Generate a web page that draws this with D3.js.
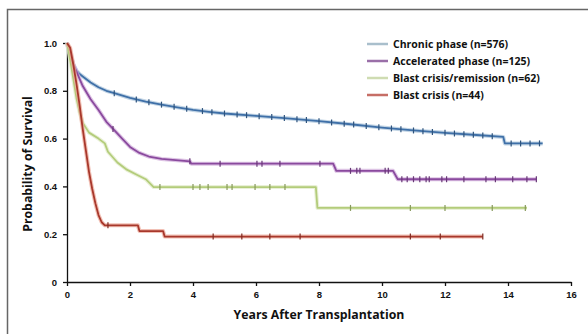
<!DOCTYPE html>
<html>
<head>
<meta charset="utf-8">
<script src="https://cdn.jsdelivr.net/npm/d3@7"></script>
<style>
  body { margin: 0; background: #fff; }
  svg { display: block; font-family: "Open Sans", "DejaVu Sans", sans-serif; }
</style>
</head>
<body>
<svg id="chart" width="588" height="335"></svg>
<script>
// Kaplan-Meier curves, [years, probability]
const chronic = [[0,1],[0.05,0.97],[0.1,0.95],[0.2,0.91],[0.3,0.885],[0.4,0.87],[0.5,0.86],[0.75,0.835],[1,0.815],[1.25,0.8],[1.5,0.79],[2,0.77],[2.5,0.755],[3,0.742],[3.5,0.731],[4,0.72],[4.5,0.712],[5,0.705],[6,0.695],[7,0.685],[8,0.673],[9,0.66],[10,0.646],[11,0.634],[12,0.624],[13,0.615],[13.85,0.607],[13.9,0.58],[15.1,0.58]];
const accelerated = [[0,1],[0.1,0.96],[0.2,0.91],[0.3,0.88],[0.5,0.82],[0.75,0.765],[1,0.72],[1.25,0.67],[1.5,0.635],[1.75,0.6],[2,0.565],[2.3,0.54],[2.6,0.525],[3,0.515],[3.9,0.505],[3.95,0.495],[8.45,0.495],[8.55,0.465],[10.35,0.465],[10.5,0.43],[14.9,0.43]];
const remission = [[0,1],[0.1,0.93],[0.2,0.85],[0.3,0.77],[0.4,0.71],[0.5,0.665],[0.7,0.625],[1,0.6],[1.2,0.58],[1.3,0.545],[1.6,0.5],[1.9,0.47],[2.2,0.45],[2.5,0.43],[2.75,0.397],[7.9,0.397],[7.95,0.31],[14.6,0.31]];
const blast = [[0,1],[0.1,0.98],[0.2,0.91],[0.3,0.83],[0.4,0.74],[0.5,0.64],[0.6,0.55],[0.7,0.46],[0.8,0.39],[0.9,0.33],[1,0.28],[1.1,0.25],[1.2,0.237],[2.25,0.237],[2.3,0.213],[3.05,0.213],[3.1,0.19],[13.2,0.19]];

// censoring marks (years)
const chronicCens = [1.5,2.2,2.6,3.0,3.4,3.8,4.3,4.6,5.0,5.4,5.7,6.1,6.5,6.9,7.3,7.6,8.0,8.4,8.8,9.1,9.5,9.9,10.3,10.6,11.0,11.3,11.6,12.0,12.3,12.6,12.9,13.2,13.5,14.1,14.4,14.7,15.0];
const acceleratedCens = [1.46,3.9,4.86,6.03,6.19,6.76,8.03,9.0,9.2,9.3,10.1,10.2,10.63,10.8,11.0,11.2,11.4,11.5,11.9,12.05,12.6,13.3,13.6,14.15,14.6,14.9];
const remissionCens = [2.95,4.0,4.22,4.48,5.08,5.24,5.97,6.44,6.92,9.0,10.9,12.0,13.5,14.55];
const blastCens = [1.3,4.64,5.55,6.44,7.4,10.9,11.85,13.2];

const seriesNames = ["Chronic phase (n=576)", "Accelerated phase (n=125)", "Blast crisis/remission (n=62)", "Blast crisis (n=44)"];
const xTicks = [0,2,4,6,8,10,12,14,16];
const yTicks = [0,0.2,0.4,0.6,0.8,1.0];

const series = [
  { name: seriesNames[0], pts: chronic, cens: chronicCens, color: "#3f70a8", halo: "#a9c3da", legend: "#a9bfcc" },
  { name: seriesNames[1], pts: accelerated, cens: acceleratedCens, color: "#8a4a9e", halo: "#cfaad8", legend: "#9a6fa8" },
  { name: seriesNames[2], pts: remission, cens: remissionCens, color: "#b3cc7a", halo: "#e0eac6", legend: "#cfdcb2" },
  { name: seriesNames[3], pts: blast, cens: blastCens, color: "#a8382c", halo: "#eba596", legend: "#c66e66" }
];

const svg = d3.select("#chart");

// frame
svg.append("path").attr("d", "M7.5,334 V9.5 H588")
  .attr("fill", "none").attr("stroke", "#666").attr("stroke-width", 1.5);

const x = d3.scaleLinear().domain([0, 16]).range([67, 571]);
const y = d3.scaleLinear().domain([0, 1]).range([282, 43]);

svg.append("g")
  .attr("transform", "translate(0,282)")
  .call(d3.axisBottom(x).tickValues(xTicks).tickFormat(d3.format("d")).tickSize(4).tickSizeOuter(0))
  .call(g => g.select(".domain").attr("stroke", "#111").attr("stroke-width", 1.3))
  .call(g => g.selectAll(".tick line").attr("stroke", "#111").attr("stroke-width", 1.3))
  .call(g => g.selectAll("text").attr("font-size", 9.5).attr("font-weight", "bold").attr("fill", "#111").attr("dy", "0.95em"));

svg.append("g")
  .attr("transform", "translate(67,0)")
  .call(d3.axisLeft(y).tickValues(yTicks).tickFormat(d => d === 0 ? "0" : d3.format(".1f")(d)).tickSize(4).tickSizeOuter(0))
  .call(g => g.select(".domain").attr("stroke", "#111").attr("stroke-width", 1.3))
  .call(g => g.selectAll(".tick line").attr("stroke", "#111").attr("stroke-width", 1.3))
  .call(g => g.selectAll("text").attr("font-size", 9.5).attr("font-weight", "bold").attr("fill", "#111").attr("dx", "-0.3em"));

// axis titles
svg.append("text")
  .attr("x", 319).attr("y", 319)
  .attr("text-anchor", "middle")
  .attr("font-size", 12.3).attr("font-weight", "bold").attr("fill", "#111")
  .text("Years After Transplantation");

svg.append("text")
  .attr("transform", "translate(32,164) rotate(-90)")
  .attr("text-anchor", "middle")
  .attr("font-size", 12.3).attr("font-weight", "bold").attr("fill", "#111")
  .text("Probability of Survival");

const line = d3.line()
  .x(d => x(d[0]))
  .y(d => y(d[1]))
  .curve(d3.curveLinear);

// value of the curve at time t (linear between points)
function at(pts, t) {
  for (let i = 1; i < pts.length; i++) {
    const a = pts[i - 1], b = pts[i];
    if (t <= b[0]) return a[1] + (b[1] - a[1]) * (t - a[0]) / (b[0] - a[0]);
  }
  return pts[pts.length - 1][1];
}

const curves = svg.append("g");
series.forEach(s => {
  curves.append("path").datum(s.pts)
    .attr("d", line).attr("fill", "none")
    .attr("stroke", s.halo).attr("stroke-width", 4).attr("stroke-opacity", 0.7)
    .attr("stroke-linejoin", "round");
  curves.append("path").datum(s.pts)
    .attr("d", line).attr("fill", "none")
    .attr("stroke", s.color).attr("stroke-width", 1.8)
    .attr("stroke-linejoin", "round");
  curves.append("g").selectAll("line")
    .data(s.cens)
    .join("line")
    .attr("x1", d => x(d)).attr("x2", d => x(d))
    .attr("y1", d => y(at(s.pts, d)) - 3)
    .attr("y2", d => y(at(s.pts, d)) + 3)
    .attr("stroke", d3.color(s.color).darker(0.8))
    .attr("stroke-width", 1.2);
});

// legend
const legend = svg.append("g").attr("transform", "translate(367,44)");
series.forEach((s, i) => {
  const row = legend.append("g").attr("transform", `translate(0,${i * 17})`);
  row.append("line").attr("x1", 0).attr("x2", 21).attr("y1", 0).attr("y2", 0)
    .attr("stroke", s.legend).attr("stroke-width", 2.5);
  row.append("text").attr("x", 26).attr("y", 0).attr("dy", "0.35em")
    .attr("font-size", 10.5).attr("font-weight", "bold").attr("fill", "#111")
    .text(s.name);
});
</script>
</body>
</html>
